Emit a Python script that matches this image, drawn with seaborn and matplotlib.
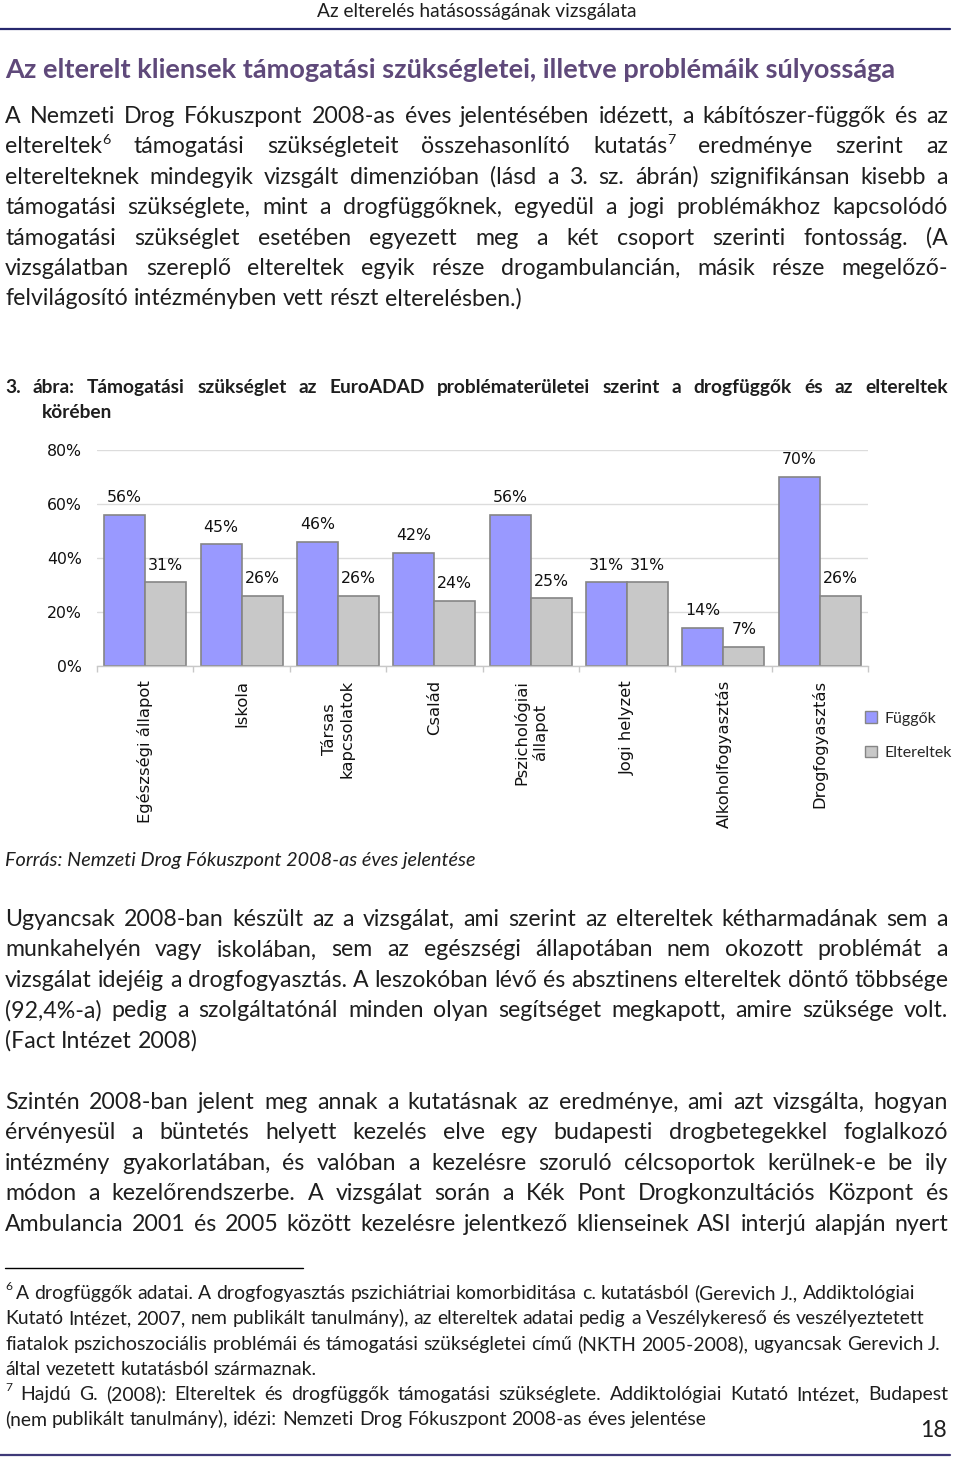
import numpy as np
import pandas as pd
import matplotlib
matplotlib.use("Agg")
import matplotlib.pyplot as plt
import seaborn as sns
from matplotlib.lines import Line2D
from matplotlib.patches import Patch

# ---------------- data ----------------
categories = ["Egészségi állapot", "Iskola", "Társas\nkapcsolatok", "Család",
              "Pszichológiai\nállapot", "Jogi helyzet", "Alkoholfogyasztás", "Drogfogyasztás"]
fuggok = [56, 45, 46, 42, 56, 31, 14, 70]
eltereltek = [31, 26, 26, 24, 25, 31, 7, 26]
series_names = ["Függők", "Eltereltek"]
y_ticks = [0, 20, 40, 60, 80]

header = "Az elterelés hatásosságának vizsgálata"
title = "Az elterelt kliensek támogatási szükségletei, illetve problémáik súlyossága"
para1 = [
    "A Nemzeti Drog Fókuszpont 2008-as éves jelentésében idézett, a kábítószer-függők és az",
    "eltereltek^6 támogatási szükségleteit összehasonlító kutatás^7 eredménye szerint az",
    "elterelteknek mindegyik vizsgált dimenzióban (lásd a 3. sz. ábrán) szignifikánsan kisebb a",
    "támogatási szükséglete, mint a drogfüggőknek, egyedül a jogi problémákhoz kapcsolódó",
    "támogatási szükséglet esetében egyezett meg a két csoport szerinti fontosság. (A",
    "vizsgálatban szereplő eltereltek egyik része drogambulancián, másik része megelőző-",
    "felvilágosító intézményben vett részt elterelésben.)",
]
caption1 = "3. ábra: Támogatási szükséglet az EuroADAD problématerületei szerint a drogfüggők és az eltereltek"
caption2 = "körében"
source = "Forrás: Nemzeti Drog Fókuszpont 2008-as éves jelentése"
para2 = [
    "Ugyancsak 2008-ban készült az a vizsgálat, ami szerint az eltereltek kétharmadának sem a",
    "munkahelyén vagy iskolában, sem az egészségi állapotában nem okozott problémát a",
    "vizsgálat idejéig a drogfogyasztás. A leszokóban lévő és absztinens eltereltek döntő többsége",
    "(92,4%-a) pedig a szolgáltatónál minden olyan segítséget megkapott, amire szüksége volt.",
    "(Fact Intézet 2008)",
]
para3 = [
    "Szintén 2008-ban jelent meg annak a kutatásnak az eredménye, ami azt vizsgálta, hogyan",
    "érvényesül a büntetés helyett kezelés elve egy budapesti drogbetegekkel foglalkozó",
    "intézmény gyakorlatában, és valóban a kezelésre szoruló célcsoportok kerülnek-e be ily",
    "módon a kezelőrendszerbe. A vizsgálat során a Kék Pont Drogkonzultációs Központ és",
    "Ambulancia 2001 és 2005 között kezelésre jelentkező klienseinek ASI interjú alapján nyert",
]
foot6 = [
    "A drogfüggők adatai. A drogfogyasztás pszichiátriai komorbiditása c. kutatásból (Gerevich J., Addiktológiai",
    "Kutató Intézet, 2007, nem publikált tanulmány), az eltereltek adatai pedig a Veszélykereső és veszélyeztetett",
    "fiatalok pszichoszociális problémái és támogatási szükségletei című (NKTH 2005-2008), ugyancsak Gerevich J.",
    "által vezetett kutatásból származnak.",
]
foot7 = [
    "Hajdú G. (2008): Eltereltek és drogfüggők támogatási szükséglete. Addiktológiai Kutató Intézet, Budapest",
    "(nem publikált tanulmány), idézi: Nemzeti Drog Fókuszpont 2008-as éves jelentése",
]
page_no = "18"

# ---------------- setup ----------------
W, H = 960, 1460
sns.set_theme(style="white")
plt.rcParams["font.family"] = ["Lato", "DejaVu Sans"]
fig = plt.figure(figsize=(9.6, 14.6), dpi=100)
fig.patch.set_facecolor("white")
renderer = fig.canvas.get_renderer()
TXT = "#1e1e1e"


def fx(px):
    return px / W


def fy(py):
    return 1 - py / H


def measure(s, **kw):
    t = fig.text(0, 0, s, **kw)
    w = t.get_window_extent(renderer).width
    t.remove()
    return w


def fit_size(s, target, base=15.0, **kw):
    return base * target / measure(s, fontsize=base, **kw)


def draw_line(line, x0, x1, yb, size, justify=True, **kw):
    tokens = line.split(" ")
    parts = []
    for tok in tokens:
        if "^" in tok:
            b, s = tok.split("^")
        else:
            b, s = tok, ""
        wb = measure(b, fontsize=size, **kw) if b else 0
        ws = measure(s, fontsize=size * 0.62, **kw) if s else 0
        parts.append((b, s, wb, ws))
    total = sum(p[2] + p[3] for p in parts)
    if justify and len(parts) > 1:
        gap = (x1 - x0 - total) / (len(parts) - 1)
    else:
        gap = measure("a a", fontsize=size, **kw) - 2 * measure("a", fontsize=size, **kw)
    x = x0
    for b, s, wb, ws in parts:
        if b:
            fig.text(fx(x), fy(yb), b, fontsize=size, ha="left", va="baseline", color=TXT, **kw)
        if s:
            fig.text(fx(x + wb), fy(yb - size * 0.55), s, fontsize=size * 0.62,
                     ha="left", va="baseline", color=TXT, **kw)
        x += wb + ws + gap


def hline(x0, x1, y, color, lw):
    fig.add_artist(Line2D([fx(x0), fx(x1)], [fy(y), fy(y)], transform=fig.transFigure,
                          color=color, lw=lw))


# ---------------- page text ----------------
hs = fit_size(header, 321)
fig.text(fx(477), fy(17), header, fontsize=hs, ha="center", va="baseline", color=TXT)
hline(0, 950, 29, "#27286e", 1.6)

ts = fit_size(title, 893, weight="bold")
fig.text(fx(5), fy(78), title, fontsize=ts, weight="bold", color="#5f497a",
         ha="left", va="baseline")

bs = fit_size(para1[-1], 519)
for i, line in enumerate(para1):
    draw_line(line, 5, 948, 123 + i * 30.4, bs, justify=(i < len(para1) - 1))

cs = fit_size(caption2, 71, weight="bold")
draw_line(caption1, 5, 948, 393, cs, justify=True, weight="bold")
draw_line(caption2, 42, 948, 418, cs, justify=False, weight="bold")

ss = fit_size(source, 473, style="italic")
fig.text(fx(5), fy(866), source, fontsize=ss, style="italic", color=TXT, ha="left", va="baseline")

for i, line in enumerate(para2):
    draw_line(line, 5, 948, 926 + i * 30.4, bs, justify=(i < len(para2) - 1))
for i, line in enumerate(para3):
    draw_line(line, 5, 948, 1109 + i * 30.4, bs, justify=True)

hline(5, 303, 1268, "black", 1.0)
fs = fit_size(foot6[-1], 313)
fig.text(fx(5), fy(1290), "6", fontsize=fs * 0.62, color=TXT, ha="left", va="baseline")
for i, line in enumerate(foot6):
    x0 = 16 if i == 0 else 5
    draw_line(line, x0, 948, 1299 + i * 25.4, fs, justify=False)
fig.text(fx(5), fy(1391), "7", fontsize=fs * 0.62, color=TXT, ha="left", va="baseline")
draw_line(foot7[0], 20, 948, 1400, fs, justify=True)
draw_line(foot7[1], 5, 948, 1425, fs, justify=False)
fig.text(fx(947), fy(1437), page_no, fontsize=bs, color=TXT, ha="right", va="baseline")
hline(0, 950, 1455, "#3f3a78", 1.6)

# ---------------- chart ----------------
df = pd.DataFrame({
    "cat": categories * 2,
    "val": fuggok + eltereltek,
    "group": [series_names[0]] * len(categories) + [series_names[1]] * len(categories),
})
ax = fig.add_axes([fx(97), fy(666), fx(868) - fx(97), (666 - 450) / H])
sns.barplot(data=df, x="cat", y="val", hue="group", order=categories, hue_order=series_names,
            palette=["#9999ff", "#c8c8c8"], saturation=1, width=0.85, gap=0,
            edgecolor="#858585", linewidth=1.2, ax=ax, legend=False)

for cont in ax.containers:
    vals = [int(round(b.get_height())) for b in cont]
    ax.bar_label(cont, labels=[f"{v}%" for v in vals], padding=7, fontsize=11.3,
                 family="DejaVu Sans", color="#111111")

ax.set_xlim(-0.5, len(categories) - 0.5)
ax.set_ylim(0, 80)
ax.set_yticks(y_ticks)
ax.set_yticklabels([f"{v}%" for v in y_ticks], fontsize=11.3, family="DejaVu Sans", color="#111111")
ax.tick_params(axis="y", length=0, pad=11)
ax.yaxis.grid(True, color="#dcdcdc", lw=1)
ax.set_axisbelow(True)
ax.set_xticks(range(len(categories)))
ax.set_xticklabels(categories, rotation=90, fontsize=11.8, family="DejaVu Sans", color="#111111",
                   va="top", ha="center")
for lab in ax.get_xticklabels():
    lab.set_multialignment("center")
ax.set_xticks(np.arange(-0.5, len(categories)), minor=True)
ax.tick_params(axis="x", which="major", length=0, pad=10)
ax.tick_params(axis="x", which="minor", length=4, width=1, color="#c8c8c8", direction="out", bottom=True)
ax.set_xlabel("")
ax.set_ylabel("")
for s in ["top", "right", "left"]:
    ax.spines[s].set_visible(False)
ax.spines["bottom"].set_color("#c8c8c8")
ax.spines["bottom"].set_linewidth(1)
ax.set_facecolor("white")

handles = [Patch(facecolor="#9999ff", edgecolor="#858585"),
           Patch(facecolor="#c8c8c8", edgecolor="#858585")]
fig.legend(handles, series_names, loc="upper left", bbox_to_anchor=(fx(851), fy(697)),
           frameon=False, handlelength=0.75, handleheight=0.75, handletextpad=0.45,
           labelspacing=1.25, fontsize=11.5)

fig.savefig("out.png", dpi=100, facecolor="white")
